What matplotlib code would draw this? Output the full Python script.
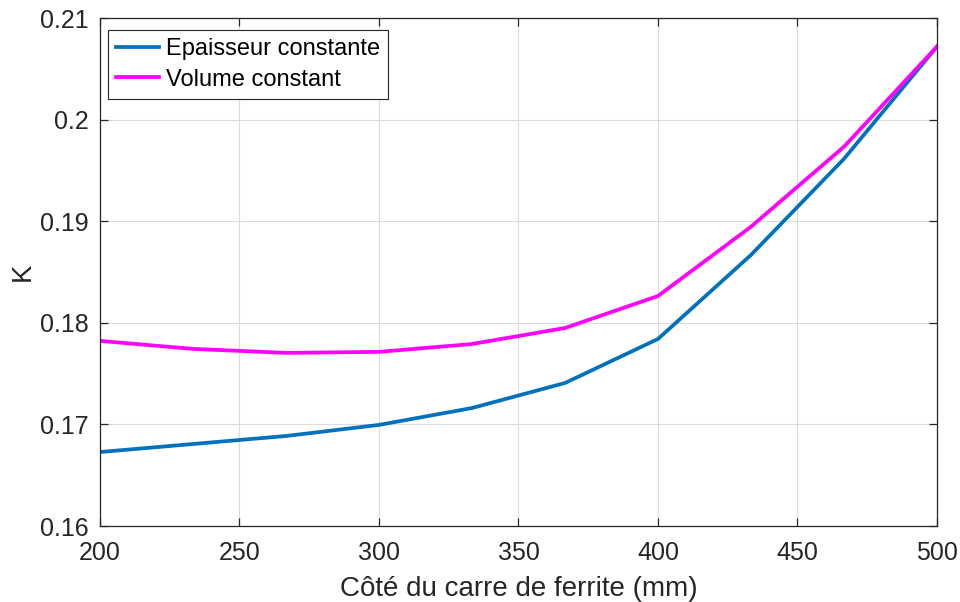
import numpy as np
import matplotlib.pyplot as plt

plt.rcParams['font.family'] = ['Liberation Sans', 'DejaVu Sans']

# side length of the ferrite square (mm)
cote = [200, 233.3, 266.7, 300, 333.3, 366.7, 400, 433.3, 466.7, 500]
k_epaisseur = [0.16728, 0.16807, 0.16886, 0.16995, 0.17161, 0.17408,
               0.17841, 0.18667, 0.19615, 0.20719]
k_volume = [0.17822, 0.17743, 0.17704, 0.17714, 0.17791, 0.17949,
            0.18264, 0.18945, 0.19734, 0.20719]

fig = plt.figure(figsize=(9.6, 6.02), dpi=100)
ax = fig.add_axes([100/960, 1 - 526/602, 837/960, 508/602])

ax.plot(cote, k_epaisseur, color='#0072BD', lw=2.7, label='Epaisseur constante')
ax.plot(cote, k_volume, color='#FF00FF', lw=2.7, label='Volume constant')

ax.set_xlim(200, 500)
ax.set_ylim(0.16, 0.21)
ax.set_xticks(np.arange(200, 501, 50))
ax.set_yticks([0.16, 0.17, 0.18, 0.19, 0.2, 0.21])
ax.set_yticklabels(['0.16', '0.17', '0.18', '0.19', '0.2', '0.21'])

ax.grid(True, color='#dcdcdc', lw=0.8)
ax.set_axisbelow(True)
for s in ax.spines.values():
    s.set_color('#262626')
    s.set_linewidth(0.9)
ax.tick_params(direction='in', top=True, right=True, length=6, width=0.9,
               colors='#262626', labelsize=18, pad=8)
ax.tick_params(axis='x', pad=11)

ax.set_xlabel('Côté du carre de ferrite (mm)', fontsize=20, color='#262626', labelpad=8)
ax.set_ylabel('K', fontsize=20, color='#262626', labelpad=3)

leg = ax.legend(loc='upper left', fontsize=17, fancybox=False, framealpha=1,
                edgecolor='#262626', handlelength=1.8, handletextpad=0.3,
                borderpad=0.35, labelspacing=0.35, borderaxespad=0,
                bbox_to_anchor=(0.0096, 0.976))
leg.get_frame().set_linewidth(0.8)

fig.savefig('out.png', dpi=100)
